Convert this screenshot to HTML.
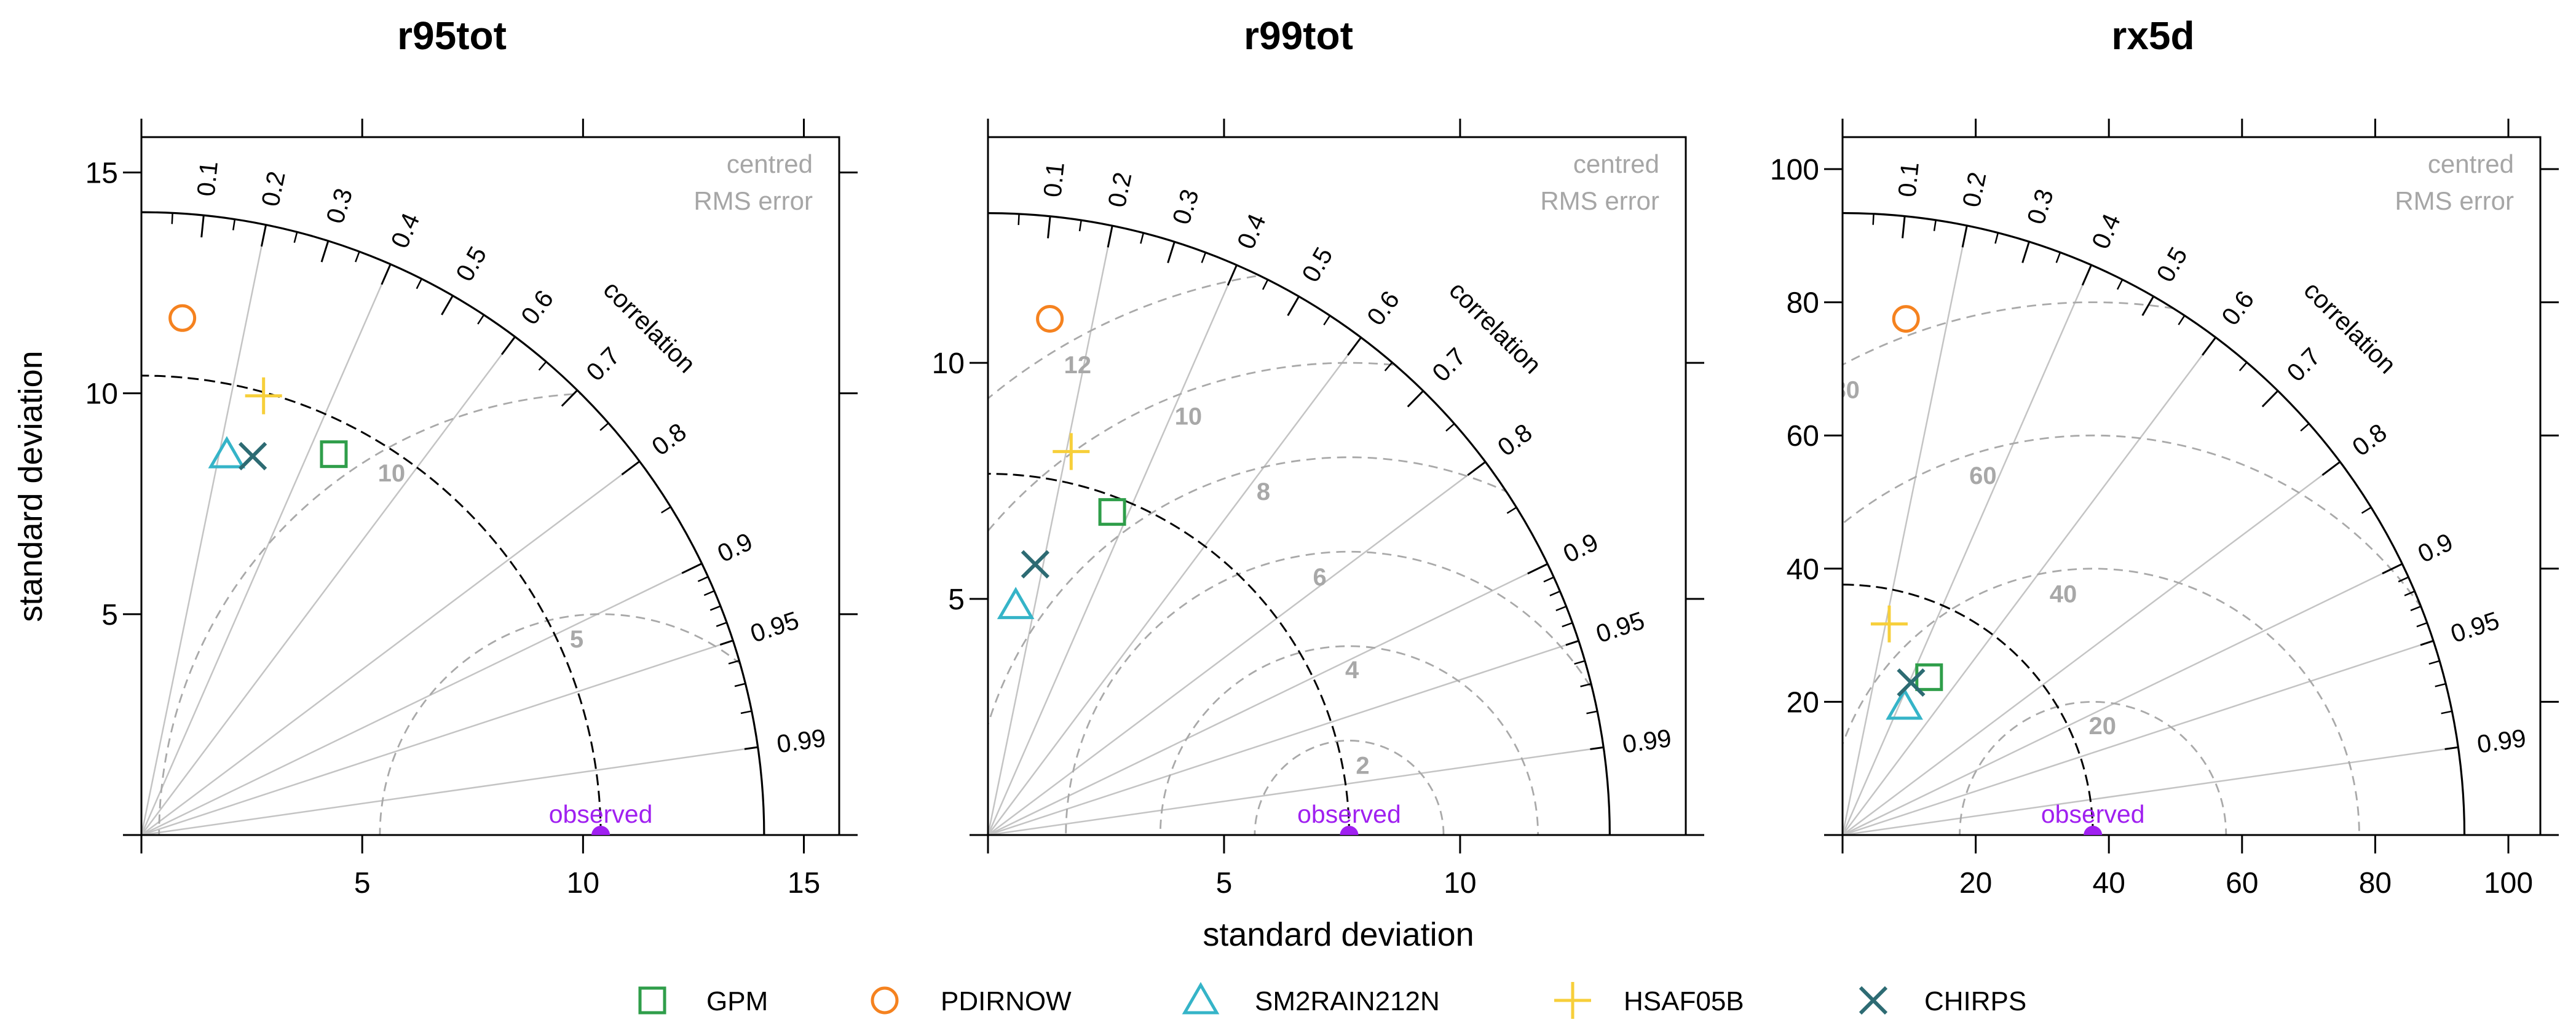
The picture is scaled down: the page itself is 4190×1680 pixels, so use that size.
<!DOCTYPE html>
<html><head><meta charset="utf-8"><style>
html,body{margin:0;padding:0;background:#fff;width:4190px;height:1680px;overflow:hidden;}
svg{display:block;font-family:"Liberation Sans",Arial,sans-serif;}
</style></head><body>
<svg id="chart" xmlns="http://www.w3.org/2000/svg" width="4190" height="1680" viewBox="0 0 4190 1680">
<rect x="0" y="0" width="4190" height="1680" fill="#fff"/>
</svg>
<script>
// ---- data ----
const models = ["GPM","PDIRNOW","SM2RAIN212N","HSAF05B","CHIRPS"];
const panelTitles = ["r95tot","r99tot","rx5d"];
const sdR95 = [9.66, 11.74, 8.83, 10.32, 8.94];
const corrR95 = [0.451, 0.079, 0.219, 0.268, 0.282];
const sdR99 = [7.33, 11.01, 4.90, 8.31, 5.82];
const corrR99 = [0.359, 0.119, 0.120, 0.212, 0.172];
const sdRx5 = [27.03, 78.09, 21.5, 32.46, 25.1];
const corrRx5 = [0.481, 0.122, 0.432, 0.216, 0.410];
const obsSd = [10.4, 7.65, 37.6];
const maxSd = [14.1, 13.17, 93.4];
const axisMax = [15.8, 14.78, 104.8];
const ticksR95 = [0, 5, 10, 15];
const ticksR99 = [0, 5, 10];
const ticksRx5 = [0, 20, 40, 60, 80, 100];
const rmsR95 = [5, 10];
const rmsR99 = [2, 4, 6, 8, 10, 12];
const rmsRx5 = [20, 40, 60, 80];
const corrLines = [0.2, 0.4, 0.6, 0.8, 0.9, 0.95, 0.99];
const corrLabels = [0.1,0.2,0.3,0.4,0.5,0.6,0.7,0.8,0.9,0.95,0.99];
const corrMinor = [0.05,0.15,0.25,0.35,0.45,0.55,0.65,0.75,0.85,0.91,0.92,0.93,0.94,0.96,0.97,0.98];

const sdSets = [sdR95, sdR99, sdRx5];
const corrSets = [corrR95, corrR99, corrRx5];
const tickSets = [ticksR95, ticksR99, ticksRx5];
const rmsSets = [rmsR95, rmsR99, rmsRx5];
const rmsAngles = [[97,120],[79,89,96.5,104,111,120],[85,97,107,119]];

const colors = ["#2f9e4a","#f5821f","#35b4c8","#f7cf3a","#2d6b73"];
const shapes = ["square","circle","triangle","plus","cross"];
const NS = "http://www.w3.org/2000/svg";
const svg = document.getElementById("chart");
const lefts = [230, 1607, 2997];
const BOX = 1135, BOTTOM = 1358, TOP = BOTTOM - BOX;

function el(tag, attrs, parent) {
  const e = document.createElementNS(NS, tag);
  for (const k in attrs) e.setAttribute(k, attrs[k]);
  (parent || svg).appendChild(e);
  return e;
}
function marker(g, type, cx, cy, color) {
  const sw = 5;
  let m;
  if (type === "square") m = el("rect", {x:cx-20, y:cy-20, width:40, height:40, fill:"none", stroke:color, "stroke-width":sw}, g);
  else if (type === "circle") m = el("circle", {cx:cx, cy:cy, r:20, fill:"none", stroke:color, "stroke-width":sw}, g);
  else if (type === "triangle") m = el("polygon", {points:`${cx},${cy-25} ${cx-26},${cy+20} ${cx+26},${cy+20}`, fill:"none", stroke:color, "stroke-width":sw}, g);
  else if (type === "plus") m = el("path", {d:`M${cx-30},${cy}H${cx+30}M${cx},${cy-30}V${cy+30}`, fill:"none", stroke:color, "stroke-width":sw}, g);
  else m = el("path", {d:`M${cx-21},${cy-21}L${cx+21},${cy+21}M${cx+21},${cy-21}L${cx-21},${cy+21}`, fill:"none", stroke:color, "stroke-width":sw+1}, g);
  return m;
}

for (let p = 0; p < 3; p++) {
  const L = lefts[p];
  const s = BOX / axisMax[p];
  const X = v => L + v * s;
  const Y = v => BOTTOM - v * s;
  const R = maxSd[p] * s;
  const g = el("g", {});
  
  

  const t = el("text", {x: L + 505, y: 80, "font-size": 64, "font-weight": "bold", "text-anchor": "middle"}, g);
  t.textContent = panelTitles[p];
  
  

  const defs = el("defs", {}, g);
  const cpW = el("clipPath", {id: "wedge" + p}, defs);
  el("path", {d:`M${X(0)},${Y(0)}L${X(0)+R},${Y(0)}A${R},${R} 0 0 0 ${X(0)},${Y(0)-R}Z`}, cpW);
  const cpB = el("clipPath", {id: "box" + p}, defs);
  el("rect", {x: L, y: TOP, width: BOX, height: BOX}, cpB);

  corrLines.forEach(c => {
    const a = Math.acos(c);
    const ln = el("line", {x1:X(0), y1:Y(0), x2:X(0)+R*Math.cos(a), y2:Y(0)-R*Math.sin(a), stroke:"#c4c4c4", "stroke-width":2.5}, g);
    
    
  });

  const gr = el("g", {"clip-path": `url(#wedge${p})`}, g);
  rmsSets[p].forEach(r => {
    const c = el("circle", {cx:X(obsSd[p]), cy:Y(0), r:r*s, fill:"none", stroke:"#a9a9a9", "stroke-width":2.8, "stroke-dasharray":"15 10"}, gr);
    
    
  });
  const gl = el("g", {"clip-path": `url(#box${p})`}, g);
  rmsSets[p].forEach((r, i) => {
    const a = rmsAngles[p][i] * Math.PI / 180;
    const d = r * s - 38;
    const tx = el("text", {x:X(obsSd[p]) + d*Math.cos(a), y:Y(0) - d*Math.sin(a) + 14, "font-size":40, "font-weight":"bold", fill:"#a8a8a8", "text-anchor":"middle"}, gl);
    tx.textContent = r;
    
    
  });

  const ro = obsSd[p] * s;
  const oa = el("path", {d:`M${X(0)+ro},${Y(0)}A${ro},${ro} 0 0 0 ${X(0)},${Y(0)-ro}`, fill:"none", stroke:"#000", "stroke-width":3, "stroke-dasharray":"18 9"}, g);
  
  

  const arc = el("path", {d:`M${X(0)+R},${Y(0)}A${R},${R} 0 0 0 ${X(0)},${Y(0)-R}`, fill:"none", stroke:"#000", "stroke-width":3.2}, g);
  
  
  corrLabels.forEach(c => {
    const a = Math.acos(c);
    const len = (c === 0.95 || c === 0.99) ? 22 : 36;
    el("line", {x1:X(0)+R*Math.cos(a), y1:Y(0)-R*Math.sin(a), x2:X(0)+(R-len)*Math.cos(a), y2:Y(0)-(R-len)*Math.sin(a), stroke:"#000", "stroke-width":3}, g);
    const lr = R * 1.025 + 6;
    const lx = X(0)+lr*Math.cos(a), ly = Y(0)-lr*Math.sin(a);
    const tx = el("text", {x:lx, y:ly, "font-size":41, "dominant-baseline":"central", transform:`rotate(${-a*180/Math.PI} ${lx} ${ly})`}, g);
    tx.textContent = String(c);
    
    
  });
  corrMinor.forEach(c => {
    const a = Math.acos(c);
    el("line", {x1:X(0)+R*Math.cos(a), y1:Y(0)-R*Math.sin(a), x2:X(0)+(R-18)*Math.cos(a), y2:Y(0)-(R-18)*Math.sin(a), stroke:"#000", "stroke-width":2.5}, g);
  });
  {
    const a = 45 * Math.PI / 180, lr = R * 1.154;
    const lx = X(0)+lr*Math.cos(a), ly = Y(0)-lr*Math.sin(a);
    const ct = el("text", {x:lx, y:ly, "font-size":41, "text-anchor":"middle", "dominant-baseline":"central", transform:`rotate(45 ${lx} ${ly})`}, g);
    ct.textContent = "correlation";
    
    
  }

  const n1 = el("text", {x:L+BOX-43, y:TOP+58, "font-size":42, fill:"#a6a6a6", "text-anchor":"end"}, g);
  n1.textContent = "centred";
  
  
  const n2 = el("text", {x:L+BOX-43, y:TOP+118, "font-size":42, fill:"#a6a6a6", "text-anchor":"end"}, g);
  n2.textContent = "RMS error";
  
  

  const box = el("rect", {x:L, y:TOP, width:BOX, height:BOX, fill:"none", stroke:"#000", "stroke-width":3}, g);
  
  
  tickSets[p].forEach(v => {
    if (v > axisMax[p]) return;
    el("line", {x1:X(v), y1:BOTTOM, x2:X(v), y2:BOTTOM+30, stroke:"#000", "stroke-width":3}, g);
    el("line", {x1:X(v), y1:TOP, x2:X(v), y2:TOP-30, stroke:"#000", "stroke-width":3}, g);
    el("line", {x1:L, y1:Y(v), x2:L-30, y2:Y(v), stroke:"#000", "stroke-width":3}, g);
    el("line", {x1:L+BOX, y1:Y(v), x2:L+BOX+30, y2:Y(v), stroke:"#000", "stroke-width":3}, g);
    if (v === 0) return;
    const xl = el("text", {x:X(v), y:BOTTOM+94, "font-size":48, "text-anchor":"middle"}, g);
    xl.textContent = v;
    
    
    const yl = el("text", {x:L-38, y:Y(v)+17, "font-size":48, "text-anchor":"end"}, g);
    yl.textContent = v;
    
    
  });

  const go = el("g", {"clip-path": `url(#box${p})`}, g);
  const od = el("circle", {cx:X(obsSd[p]), cy:Y(0), r:15, fill:"#a020f0"}, go);
  
  
  const ot = el("text", {x:X(obsSd[p]), y:BOTTOM-20, "font-size":41, fill:"#a020f0", "text-anchor":"middle"}, g);
  ot.textContent = "observed";
  
  

  models.forEach((m, i) => {
    const sd = sdSets[p][i], c = corrSets[p][i];
    const a = Math.acos(c);
    const mk = marker(g, shapes[i], X(sd*Math.cos(a)), Y(sd*Math.sin(a)), colors[i]);
    
    
  });
}

const yt = el("text", {x:0, y:0, "font-size":54, "text-anchor":"middle", transform:"translate(68 791) rotate(-90)"});
yt.textContent = "standard deviation";


const xt = el("text", {x:2177, y:1538, "font-size":54, "text-anchor":"middle"});
xt.textContent = "standard deviation";



const legMarkX = [1061, 1439, 1953, 2558, 3047];
const legTextX = [1149, 1530, 2041, 2641, 3130];
models.forEach((m, i) => {
  const lg = el("g", {});
  
  
  const mk = marker(lg, shapes[i], legMarkX[i], 1627, colors[i]);
  
  
  const tx = el("text", {x:legTextX[i], y:1643, "font-size":44}, lg);
  tx.textContent = m;
  
  
});
</script>
</body></html>
